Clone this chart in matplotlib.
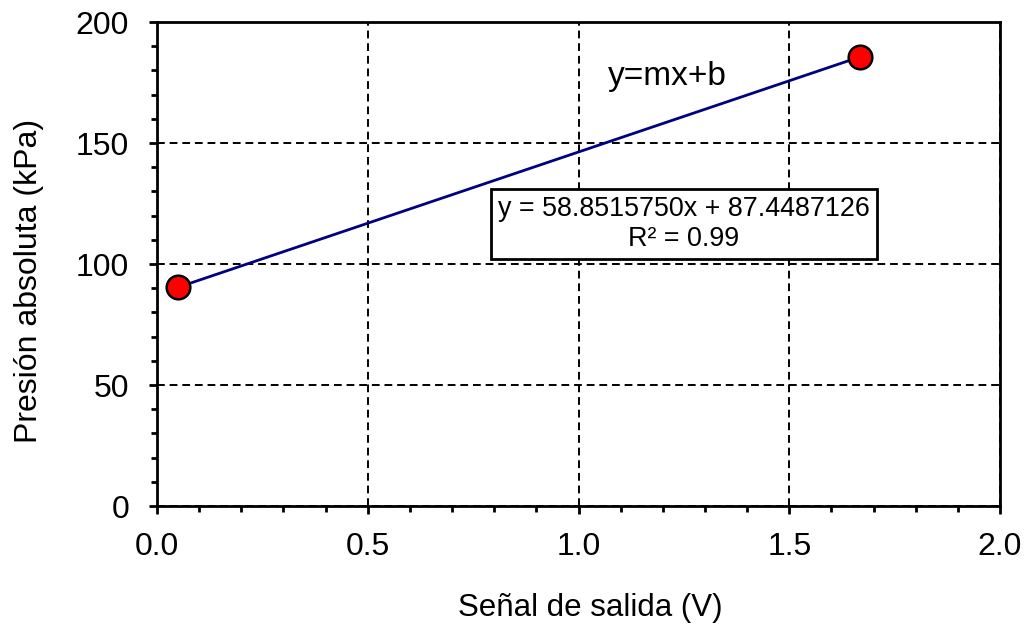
import numpy as np
import matplotlib.pyplot as plt
from matplotlib.ticker import MultipleLocator

# data
senal_v = [0.05, 1.668]
presion_kpa = [90.4, 185.6]
pendiente = 58.8515750
intercepto = 87.4487126
r2 = 0.99

plt.rcParams["font.family"] = ["Liberation Sans", "DejaVu Sans"]

fig = plt.figure(figsize=(10.26, 6.24), dpi=100)
ax = fig.add_axes([0.153, 0.189, 0.8217, 0.7757])

# trendline over the data range
xl = np.array([min(senal_v), max(senal_v)])
ax.plot(xl, pendiente * xl + intercepto, color="#000080", lw=2, zorder=3)
ax.plot(senal_v, presion_kpa, "o", ms=17, mfc="red", mec="black", mew=1.8, zorder=4)

ax.set_xlim(0, 2.0)
ax.set_ylim(0, 200)
ax.xaxis.set_major_locator(MultipleLocator(0.5))
ax.xaxis.set_minor_locator(MultipleLocator(0.1))
ax.yaxis.set_major_locator(MultipleLocator(50))
ax.yaxis.set_minor_locator(MultipleLocator(10))
ax.xaxis.set_major_formatter(plt.FormatStrFormatter("%.1f"))

ax.grid(True, which="major", color="black", ls=(0, (4, 2.5)), lw=1.4)
ax.tick_params(which="major", direction="out", length=6, width=2, labelsize=23)
ax.tick_params(axis="x", which="major", pad=13)
ax.tick_params(axis="y", which="major", pad=14)
ax.tick_params(which="minor", direction="out", length=4.5, width=2)
for s in ax.spines.values():
    s.set_linewidth(2)

ax.set_xlabel("Señal de salida (V)", fontsize=22.5)
ax.xaxis.set_label_coords(0.5136, -0.18)
ax.set_ylabel("Presión absoluta (kPa)", fontsize=23, labelpad=23)
ax.yaxis.label.set_y(0.465)

ax.text(1.21, 177.5, "y=mx+b", fontsize=24, ha="center", va="center")
ax.text(1.25, 116.5, f"y = {pendiente:.7f}x + {intercepto:.7f}\nR² = {r2:.2f}",
        fontsize=19.4, ha="center", va="center", linespacing=1.2,
        bbox=dict(boxstyle="square,pad=0.25", fc="white", ec="black", lw=2), zorder=5)

fig.savefig("out.png", dpi=100)
